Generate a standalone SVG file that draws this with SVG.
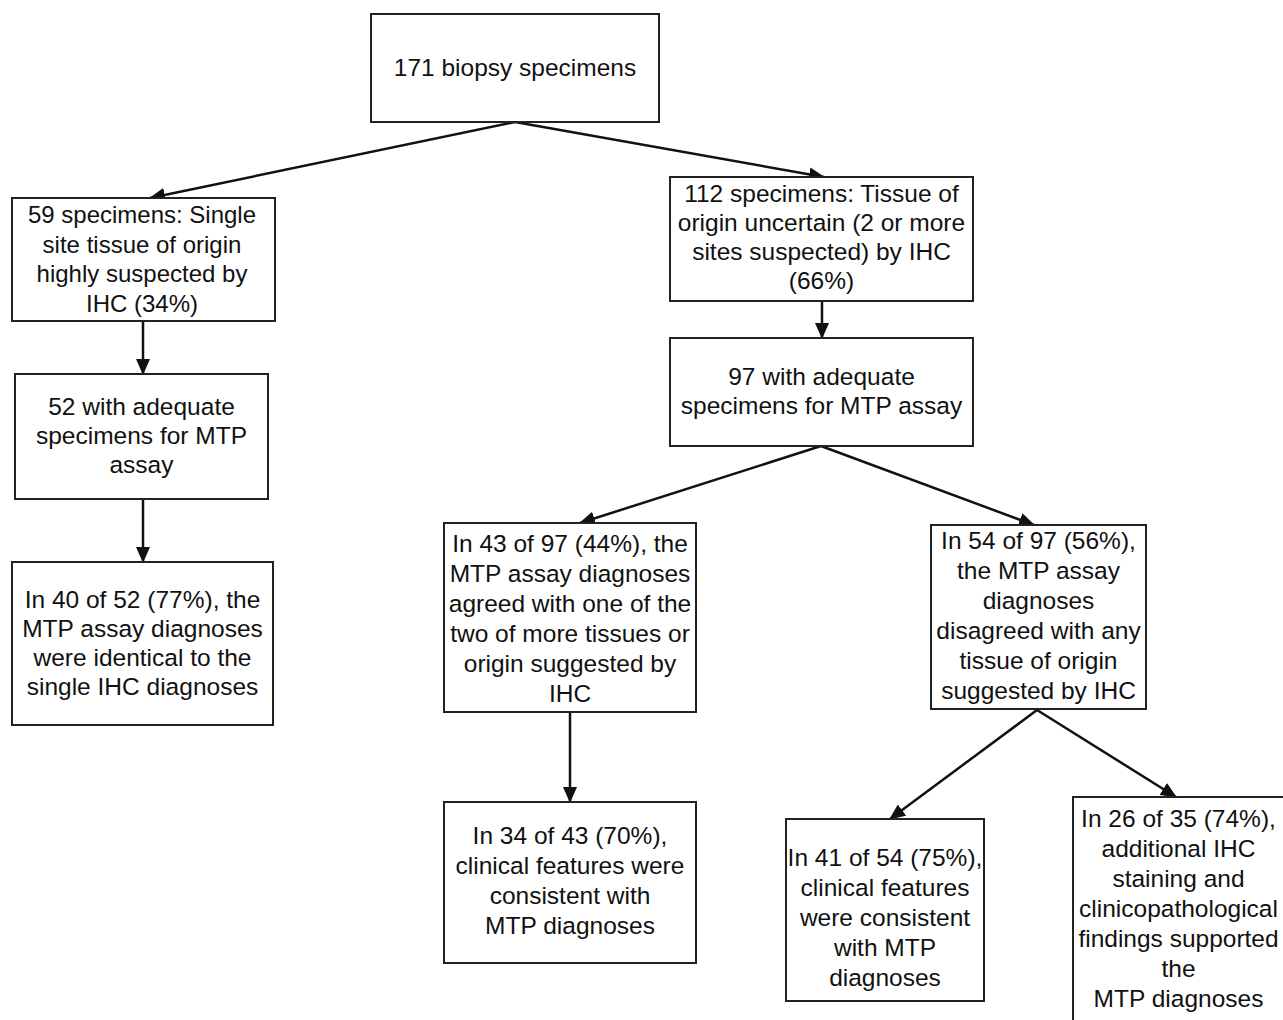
<svg xmlns="http://www.w3.org/2000/svg" width="1283" height="1020" viewBox="0 0 1283 1020">
<style>
.box{fill:#fff;stroke:#222;stroke-width:2}
.t{font-family:"Liberation Sans",Arial,sans-serif;font-size:24.5px;fill:#111;text-anchor:middle}
.c{stroke:#111;stroke-width:2.5;fill:none;marker-end:url(#ah)}
</style>
<defs>
<marker id="ah" markerUnits="userSpaceOnUse" markerWidth="16" markerHeight="14" refX="15" refY="7" orient="auto">
<path d="M0,0 L16,7 L0,14 z" fill="#111"/>
</marker>
</defs>
<rect width="1283" height="1020" fill="#fff"/>
<g id="connectors">
<line class="c" x1="515" y1="122" x2="150" y2="198"/>
<line class="c" x1="515" y1="122" x2="824" y2="177"/>
<line class="c" x1="143" y1="321" x2="143" y2="374"/>
<line class="c" x1="143" y1="499" x2="143" y2="562"/>
<line class="c" x1="822" y1="301" x2="822" y2="338"/>
<line class="c" x1="821" y1="446" x2="580" y2="523"/>
<line class="c" x1="821" y1="446" x2="1034" y2="525"/>
<line class="c" x1="570" y1="712" x2="570" y2="802"/>
<line class="c" x1="1037" y1="710" x2="890" y2="819"/>
<line class="c" x1="1037" y1="710" x2="1176" y2="797"/>
</g>
<g id="n171">
<rect class="box" x="371" y="14" width="288" height="108"/>
<text class="t" x="515" y="76">171 biopsy specimens</text>
</g>
<g id="n59">
<rect class="box" x="12" y="198" width="263" height="123"/>
<text class="t" x="142" y="223" style="font-size:24px">59 specimens: Single</text>
<text class="t" x="142" y="252.5" style="font-size:24px">site tissue of origin</text>
<text class="t" x="142" y="282" style="font-size:24px">highly suspected by</text>
<text class="t" x="142" y="311.5" style="font-size:24px">IHC (34%)</text>
</g>
<g id="n52">
<rect class="box" x="15" y="374" width="253" height="125"/>
<text class="t" x="141.5" y="415">52 with adequate</text>
<text class="t" x="141.5" y="444">specimens for MTP</text>
<text class="t" x="141.5" y="473">assay</text>
</g>
<g id="n40">
<rect class="box" x="12" y="562" width="261" height="163"/>
<text class="t" x="142.5" y="608">In 40 of 52 (77%), the</text>
<text class="t" x="142.5" y="637">MTP assay diagnoses</text>
<text class="t" x="142.5" y="666">were identical to the</text>
<text class="t" x="142.5" y="695">single IHC diagnoses</text>
</g>
<g id="n112">
<rect class="box" x="670" y="177" width="303" height="124"/>
<text class="t" x="821.5" y="202">112 specimens: Tissue of</text>
<text class="t" x="821.5" y="231">origin uncertain (2 or more</text>
<text class="t" x="821.5" y="260">sites suspected) by IHC</text>
<text class="t" x="821.5" y="289">(66%)</text>
</g>
<g id="n97">
<rect class="box" x="670" y="338" width="303" height="108"/>
<text class="t" x="821.5" y="385">97 with adequate</text>
<text class="t" x="821.5" y="414">specimens for MTP assay</text>
</g>
<g id="n43">
<rect class="box" x="444" y="523" width="252" height="189"/>
<text class="t" x="570" y="552">In 43 of 97 (44%), the</text>
<text class="t" x="570" y="582">MTP assay diagnoses</text>
<text class="t" x="570" y="612">agreed with one of the</text>
<text class="t" x="570" y="642">two of more tissues or</text>
<text class="t" x="570" y="672">origin suggested by</text>
<text class="t" x="570" y="702">IHC</text>
</g>
<g id="n34">
<rect class="box" x="444" y="802" width="252" height="161"/>
<text class="t" x="570" y="844">In 34 of 43 (70%),</text>
<text class="t" x="570" y="874">clinical features were</text>
<text class="t" x="570" y="904">consistent with</text>
<text class="t" x="570" y="934">MTP diagnoses</text>
</g>
<g id="n54">
<rect class="box" x="931" y="525" width="215" height="184"/>
<text class="t" x="1038.5" y="549">In 54 of 97 (56%),</text>
<text class="t" x="1038.5" y="579">the MTP assay</text>
<text class="t" x="1038.5" y="609">diagnoses</text>
<text class="t" x="1038.5" y="639">disagreed with any</text>
<text class="t" x="1038.5" y="669">tissue of origin</text>
<text class="t" x="1038.5" y="699">suggested by IHC</text>
</g>
<g id="n41">
<rect class="box" x="786" y="819" width="198" height="182"/>
<text class="t" x="885" y="866">In 41 of 54 (75%),</text>
<text class="t" x="885" y="896">clinical features</text>
<text class="t" x="885" y="926">were consistent</text>
<text class="t" x="885" y="956">with MTP</text>
<text class="t" x="885" y="986">diagnoses</text>
</g>
<g id="n26">
<rect class="box" x="1073" y="797" width="230" height="240"/>
<text class="t" x="1178.5" y="827">In 26 of 35 (74%),</text>
<text class="t" x="1178.5" y="857">additional IHC</text>
<text class="t" x="1178.5" y="887">staining and</text>
<text class="t" x="1178.5" y="917">clinicopathological</text>
<text class="t" x="1178.5" y="947">findings supported</text>
<text class="t" x="1178.5" y="977">the</text>
<text class="t" x="1178.5" y="1007">MTP diagnoses</text>
</g>
</svg>
